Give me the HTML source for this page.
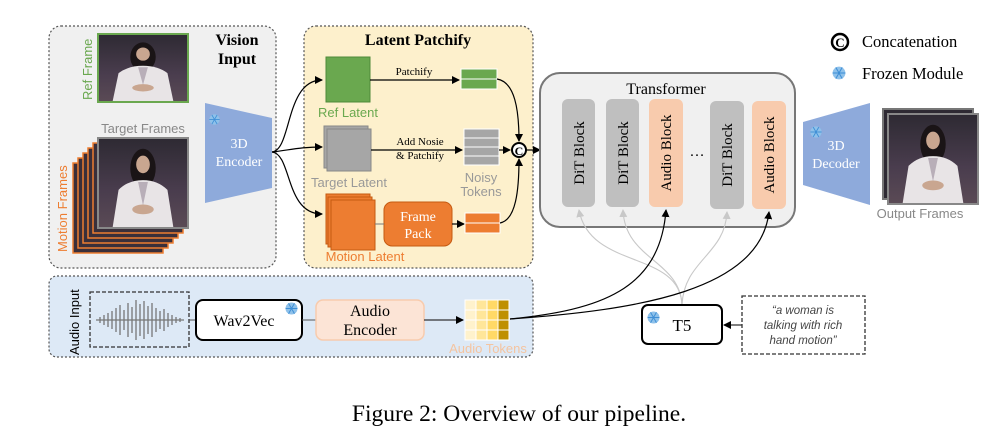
<!DOCTYPE html>
<html><head><meta charset="utf-8"><style>
html,body{margin:0;padding:0;background:#fff;}
svg{display:block;}
.s{font-family:"Liberation Sans","DejaVu Sans",sans-serif;}
.r{font-family:"Liberation Serif",serif;}
</style></head><body>
<svg width="1001" height="433" viewBox="0 0 1001 433" xmlns="http://www.w3.org/2000/svg">
<defs>
<linearGradient id="bg" x1="0" y1="0" x2="0" y2="1"><stop offset="0" stop-color="#2e2a33"/><stop offset="0.6" stop-color="#4a3d4e"/><stop offset="1" stop-color="#5a4a55"/></linearGradient>
<symbol id="ph" viewBox="0 0 90 90" preserveAspectRatio="none">
<rect width="90" height="90" fill="url(#bg)"/>
<ellipse cx="45" cy="30" rx="13" ry="20" fill="#1a1416"/>
<ellipse cx="45" cy="26" rx="7" ry="9" fill="#c9a690"/>
<path d="M14 90 L20 52 Q30 42 45 42 Q60 42 70 52 L76 90 Z" fill="#e8e4e6"/>
<path d="M40 44 L45 68 L50 44 Z" fill="#b8aeb8"/>
<ellipse cx="45" cy="72" rx="11" ry="5" fill="#c9a690"/>
</symbol>
<symbol id="snow" viewBox="-10 -10 20 20">
<circle r="8" fill="#8ec1ea"/>
<g stroke="#3f8fd6" stroke-width="1.3"><line x1="-8" y1="0" x2="8" y2="0"/><line x1="-4" y1="-7" x2="4" y2="7"/><line x1="4" y1="-7" x2="-4" y2="7"/></g>
</symbol>
<marker id="ah" markerWidth="8" markerHeight="8" refX="7" refY="4" orient="auto" markerUnits="userSpaceOnUse"><path d="M0,0 L8,4 L0,8 Z" fill="#000"/></marker>
<marker id="ag" markerWidth="8" markerHeight="8" refX="7" refY="4" orient="auto" markerUnits="userSpaceOnUse"><path d="M0,0 L8,4 L0,8 Z" fill="#c8c8c8"/></marker>
</defs>

<rect x="49" y="26" width="227" height="242" rx="12" fill="#f0f0f0" stroke="#555" stroke-width="1.2" stroke-dasharray="2,2"/>
<text x="237" y="45" class="r" font-size="16" font-weight="bold" text-anchor="middle">Vision</text>
<text x="237" y="64" class="r" font-size="16" font-weight="bold" text-anchor="middle">Input</text>
<rect x="98" y="34" width="90" height="68" fill="none" stroke="#6aa84f" stroke-width="2"/>
<use href="#ph" x="99" y="35" width="88" height="66"/>
<text class="s" font-size="13" fill="#6aa84f" transform="translate(92,100) rotate(-90)">Ref Frame</text>
<text x="143" y="133" class="s" font-size="13" fill="#888" text-anchor="middle">Target Frames</text>
<g stroke="#ed7d31" stroke-width="1.5">
<rect x="73" y="163" width="90" height="90" fill="#3a2f3a"/>
<rect x="78" y="158" width="90" height="90" fill="#3a2f3a"/>
<rect x="83" y="153" width="90" height="90" fill="#3a2f3a"/>
<rect x="88" y="148" width="90" height="90" fill="#3a2f3a"/>
<rect x="93" y="143" width="90" height="90" fill="#3a2f3a"/>
</g>
<rect x="98" y="138" width="90" height="90" fill="none" stroke="#888" stroke-width="2"/>
<use href="#ph" x="99" y="139" width="88" height="88"/>
<text class="s" font-size="13" fill="#ed7d31" transform="translate(67,252) rotate(-90)">Motion Frames</text>

<polygon points="205,103 272,118 272,188 205,203" fill="#8eaadb"/>
<use href="#snow" x="208" y="113" width="13" height="13"/>
<text x="239" y="148" class="r" font-size="14" fill="#fff" text-anchor="middle">3D</text>
<text x="239" y="166" class="r" font-size="14" fill="#fff" text-anchor="middle">Encoder</text>

<rect x="304" y="26" width="229" height="242" rx="12" fill="#fdf0cc" stroke="#555" stroke-width="1.2" stroke-dasharray="2,2"/>
<text x="418" y="45" class="r" font-size="16" font-weight="bold" text-anchor="middle">Latent Patchify</text>
<path d="M272,152 C292,150 285,80 322,80" fill="none" stroke="#000" stroke-width="1.2" marker-end="url(#ah)"/>
<path d="M272,152 C290,150 300,147 322,147" fill="none" stroke="#000" stroke-width="1.2" marker-end="url(#ah)"/>
<path d="M272,152 C292,154 285,214 322,214" fill="none" stroke="#000" stroke-width="1.2" marker-end="url(#ah)"/>
<rect x="326" y="57" width="44" height="45" fill="#6aa84f" stroke="#4f8a3a" stroke-width="1"/>
<text x="348" y="117" class="s" font-size="13" fill="#6aa84f" text-anchor="middle">Ref Latent</text>
<rect x="324" y="126" width="44" height="42" fill="#a6a6a6" stroke="#888"/>
<rect x="327" y="129" width="44" height="42" fill="#a6a6a6" stroke="#888"/>
<text x="349" y="187" class="s" font-size="13" fill="#999" text-anchor="middle">Target Latent</text>
<rect x="326" y="194" width="44" height="50" fill="#ed7d31" stroke="#c55a11"/>
<rect x="328" y="197" width="44" height="50" fill="#ed7d31" stroke="#c55a11"/>
<rect x="331" y="200" width="44" height="50" fill="#ed7d31" stroke="#c55a11"/>
<text x="365" y="261" class="s" font-size="13" fill="#ed7d31" text-anchor="middle">Motion Latent</text>
<rect x="384" y="202" width="68" height="44" rx="8" fill="#ed7d31" stroke="#c55a11"/>
<text x="418" y="221" class="r" font-size="14" fill="#fff" text-anchor="middle">Frame</text>
<text x="418" y="238" class="r" font-size="14" fill="#fff" text-anchor="middle">Pack</text>
<line x1="375" y1="224" x2="384" y2="224" stroke="#777"/>
<line x1="370" y1="80" x2="459" y2="80" stroke="#000" stroke-width="1.2" marker-end="url(#ah)"/>
<text x="414" y="75" class="r" font-size="11" text-anchor="middle">Patchify</text>
<line x1="371" y1="150" x2="462" y2="150" stroke="#000" stroke-width="1.2" marker-end="url(#ah)"/>
<text x="420" y="145" class="r" font-size="11" text-anchor="middle">Add Nosie</text>
<text x="420" y="159" class="r" font-size="11" text-anchor="middle">&amp; Patchify</text>
<line x1="452" y1="224" x2="464" y2="224" stroke="#000" stroke-width="1.2" marker-end="url(#ah)"/>
<g stroke="#fff" stroke-width="1">
<rect x="461" y="69" width="36" height="10" fill="#6aa84f"/><rect x="461" y="79" width="36" height="10" fill="#6aa84f"/>
<rect x="464" y="129" width="35" height="9" fill="#a6a6a6"/><rect x="464" y="138" width="35" height="9" fill="#a6a6a6"/>
<rect x="464" y="147" width="35" height="9" fill="#a6a6a6"/><rect x="464" y="156" width="35" height="9" fill="#a6a6a6"/>
<rect x="465" y="213" width="35" height="10" fill="#ed7d31"/><rect x="465" y="223" width="35" height="10" fill="#ed7d31"/>
</g>
<text x="481" y="182" class="s" font-size="13" fill="#999" text-anchor="middle">Noisy</text>
<text x="481" y="196" class="s" font-size="13" fill="#999" text-anchor="middle">Tokens</text>
<path d="M497,79 C515,82 519,110 519,141" fill="none" stroke="#000" stroke-width="1.2" marker-end="url(#ah)"/>
<line x1="499" y1="150" x2="510" y2="150" stroke="#000" stroke-width="1.2" marker-end="url(#ah)"/>
<path d="M500,223 C516,220 519,190 519,159" fill="none" stroke="#000" stroke-width="1.2" marker-end="url(#ah)"/>
<circle cx="519" cy="150" r="7" fill="#fff" stroke="#000" stroke-width="2"/>
<text x="519" y="155" class="r" font-size="12" font-weight="bold" text-anchor="middle">C</text>
<line x1="526" y1="150" x2="540" y2="150" stroke="#000" stroke-width="1.2" marker-end="url(#ah)"/>

<rect x="540" y="73" width="255" height="154" rx="20" fill="#f0f0f0" stroke="#777" stroke-width="2"/>
<text x="666" y="94" class="r" font-size="16" text-anchor="middle">Transformer</text>
<rect x="562" y="99" width="33" height="108" rx="6" fill="#bfbfbf"/>
<rect x="606" y="99" width="33" height="108" rx="6" fill="#bfbfbf"/>
<rect x="649" y="99" width="34" height="108" rx="6" fill="#f8cbad"/>
<rect x="710" y="101" width="34" height="108" rx="6" fill="#bfbfbf"/>
<rect x="752" y="101" width="34" height="108" rx="6" fill="#f8cbad"/>
<g class="r" font-size="15" text-anchor="middle">
<text transform="translate(584,153) rotate(-90)">DiT Block</text>
<text transform="translate(628,153) rotate(-90)">DiT Block</text>
<text transform="translate(671,153) rotate(-90)">Audio Block</text>
<text transform="translate(732,155) rotate(-90)">DiT Block</text>
<text transform="translate(774,155) rotate(-90)">Audio Block</text>
</g>
<text x="697" y="156" class="r" font-size="15" text-anchor="middle">…</text>

<polygon points="803,122 870,103 870,205 803,185" fill="#8eaadb"/>
<use href="#snow" x="809" y="125" width="14" height="14"/>
<text x="836" y="150" class="r" font-size="14" fill="#fff" text-anchor="middle">3D</text>
<text x="836" y="168" class="r" font-size="14" fill="#fff" text-anchor="middle">Decoder</text>
<rect x="883" y="109" width="90" height="90" fill="#2e2a33" stroke="#777" stroke-width="2"/>
<rect x="888" y="114" width="90" height="90" fill="none" stroke="#888" stroke-width="2"/>
<use href="#ph" x="889" y="115" width="88" height="88"/>
<text x="920" y="218" class="s" font-size="13" fill="#888" text-anchor="middle">Output Frames</text>

<circle cx="840" cy="42" r="8" fill="#fff" stroke="#000" stroke-width="2.5"/>
<text x="840" y="47" class="r" font-size="13" font-weight="bold" text-anchor="middle">C</text>
<text x="862" y="47" class="r" font-size="16.5">Concatenation</text>
<use href="#snow" x="831" y="65" width="16" height="16"/>
<text x="862" y="79" class="r" font-size="16.5">Frozen Module</text>

<rect x="49" y="276" width="484" height="81" rx="8" fill="#dde9f6" stroke="#555" stroke-width="1.2" stroke-dasharray="2,2"/>
<text class="s" font-size="13" transform="translate(79,355) rotate(-90)">Audio Input</text>
<rect x="90" y="292" width="99" height="55" fill="none" stroke="#333" stroke-width="1.3" stroke-dasharray="4,2"/>
<g stroke="#777" stroke-width="1.3">
<line x1="96" y1="320" x2="184" y2="320"/>
<path d="M100,317v6M104,315v10M108,313v14M112,311v18M116,308v24M120,305v30M124,310v20M128,303v34M132,307v26M136,300v40M140,304v32M144,301v38M148,306v28M152,303v34M156,308v24M160,311v18M164,309v22M168,313v14M172,315v10M176,317v6M180,318v4"/>
</g>
<line x1="189" y1="320" x2="196" y2="320" stroke="#555"/>
<rect x="196" y="300" width="106" height="40" rx="7" fill="#fff" stroke="#000" stroke-width="2"/>
<text x="244" y="326" class="r" font-size="16" text-anchor="middle">Wav2Vec</text>
<use href="#snow" x="284" y="301" width="15" height="15"/>
<line x1="302" y1="320" x2="316" y2="320" stroke="#555"/>
<rect x="316" y="300" width="108" height="40" rx="7" fill="#fce4d6" stroke="#f8cbad" stroke-width="1.5"/>
<text x="370" y="316" class="r" font-size="16" text-anchor="middle">Audio</text>
<text x="370" y="335" class="r" font-size="16" text-anchor="middle">Encoder</text>
<line x1="424" y1="320" x2="463" y2="320" stroke="#333" stroke-width="1.2" marker-end="url(#ah)"/>
<g stroke="#fff" stroke-width="1">
<rect x="465" y="300" width="11" height="10" fill="#fff2cc"/><rect x="476" y="300" width="11" height="10" fill="#ffe699"/><rect x="487" y="300" width="11" height="10" fill="#ffd966"/><rect x="498" y="300" width="11" height="10" fill="#bf9000"/>
<rect x="465" y="310" width="11" height="10" fill="#fff2cc"/><rect x="476" y="310" width="11" height="10" fill="#ffe699"/><rect x="487" y="310" width="11" height="10" fill="#ffd966"/><rect x="498" y="310" width="11" height="10" fill="#bf9000"/>
<rect x="465" y="320" width="11" height="10" fill="#fff2cc"/><rect x="476" y="320" width="11" height="10" fill="#ffe699"/><rect x="487" y="320" width="11" height="10" fill="#ffd966"/><rect x="498" y="320" width="11" height="10" fill="#bf9000"/>
<rect x="465" y="330" width="11" height="10" fill="#fff2cc"/><rect x="476" y="330" width="11" height="10" fill="#ffe699"/><rect x="487" y="330" width="11" height="10" fill="#ffd966"/><rect x="498" y="330" width="11" height="10" fill="#bf9000"/>
</g>
<text x="488" y="353" class="s" font-size="13" fill="#f4c4a0" text-anchor="middle">Audio Tokens</text>

<g fill="none" stroke="#c8c8c8" stroke-width="1.1">
<path d="M682,305 C680,250 590,270 579,210" marker-end="url(#ag)"/>
<path d="M682,305 C680,260 625,260 623,210" marker-end="url(#ag)"/>
<path d="M682,305 C684,260 725,255 727,212" marker-end="url(#ag)"/>
</g>
<path d="M510,319 C600,310 660,290 666,210" fill="none" stroke="#000" stroke-width="1.2" marker-end="url(#ah)"/>
<path d="M510,319 C640,310 760,290 769,212" fill="none" stroke="#000" stroke-width="1.2" marker-end="url(#ah)"/>

<rect x="642" y="305" width="80" height="39" rx="6" fill="#fff" stroke="#000" stroke-width="2"/>
<use href="#snow" x="646" y="310" width="15" height="15"/>
<text x="682" y="331" class="r" font-size="17" text-anchor="middle">T5</text>
<rect x="742" y="296" width="123" height="58" fill="#fff" stroke="#333" stroke-width="1.3" stroke-dasharray="4,2"/>
<line x1="742" y1="325" x2="724" y2="325" stroke="#333" stroke-width="1.2" marker-end="url(#ah)"/>
<g class="s" font-size="11.5" fill="#444" font-style="italic" text-anchor="middle">
<text x="803" y="314">“a woman is</text>
<text x="803" y="329">talking with rich</text>
<text x="803" y="344">hand motion”</text>
</g>

<text x="519" y="421" class="r" font-size="23.5" text-anchor="middle">Figure 2: Overview of our pipeline.</text>
</svg>
</body></html>
